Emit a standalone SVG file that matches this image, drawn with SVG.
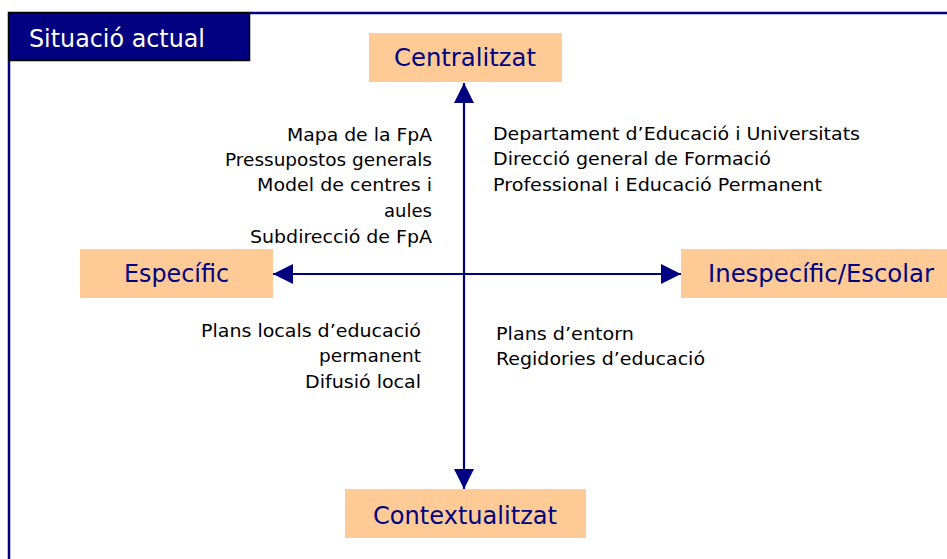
<svg xmlns="http://www.w3.org/2000/svg" width="947" height="559" viewBox="0 0 947 559">
<style>
.frame{stroke:#000080;stroke-width:2.5;fill:none}
.box{fill:#FECB97}
.hd{font-family:"DejaVu Sans",Tahoma,sans-serif;font-size:24px;fill:#000080}
.tx{font-family:"DejaVu Sans",Tahoma,sans-serif;font-size:18px;fill:#000000}
.l{text-anchor:end}
.ax{stroke:#000080;stroke-width:2.2;fill:none}
</style>
<defs>
<marker id="ah" viewBox="0 0 20 20" refX="20" refY="10" markerWidth="20" markerHeight="20" markerUnits="userSpaceOnUse" orient="auto">
<path d="M0,0 L20,10 L0,20 Z" fill="#000080"/>
</marker>
</defs>
<rect width="947" height="559" fill="#ffffff"/>
<g id="frame">
<path class="frame" d="M250,13 H947"/>
<path class="frame" d="M9,61 V559"/>
</g>
<g id="title">
<rect x="8.5" y="12.5" width="241" height="48" fill="#000080" stroke="#000000" stroke-width="1.5"/>
<text x="29" y="47" font-family="'DejaVu Sans',Tahoma,sans-serif" font-size="24" fill="#ffffff" textLength="176" lengthAdjust="spacingAndGlyphs">Situació actual</text>
</g>
<g id="connectors">
<line class="ax" x1="464" y1="274" x2="464" y2="83" marker-end="url(#ah)"/>
<line class="ax" x1="464" y1="274" x2="464" y2="489" marker-end="url(#ah)"/>
<line class="ax" x1="464" y1="274" x2="273" y2="274" marker-end="url(#ah)"/>
<line class="ax" x1="464" y1="274" x2="681" y2="274" marker-end="url(#ah)"/>
</g>
<g id="centralitzat">
<rect class="box" x="369" y="33" width="193" height="49"/>
<text class="hd" x="394" y="66" textLength="142" lengthAdjust="spacingAndGlyphs">Centralitzat</text>
</g>
<g id="especific">
<rect class="box" x="80" y="249" width="193" height="49"/>
<text class="hd" x="124" y="282" textLength="105" lengthAdjust="spacingAndGlyphs">Específic</text>
</g>
<g id="inespecific">
<rect class="box" x="681" y="249" width="266" height="49"/>
<text class="hd" x="708" y="282" textLength="226" lengthAdjust="spacingAndGlyphs">Inespecífic/Escolar</text>
</g>
<g id="contextualitzat">
<rect class="box" x="345" y="489" width="241" height="49"/>
<text class="hd" x="373" y="524" textLength="184" lengthAdjust="spacingAndGlyphs">Contextualitzat</text>
</g>
<g id="top-left-text">
<text class="tx l" x="432" y="141" textLength="145" lengthAdjust="spacingAndGlyphs">Mapa de la FpA</text>
<text class="tx l" x="432" y="166" textLength="207" lengthAdjust="spacingAndGlyphs">Pressupostos generals</text>
<text class="tx l" x="432" y="191" textLength="175" lengthAdjust="spacingAndGlyphs">Model de centres i</text>
<text class="tx l" x="432" y="217" textLength="48" lengthAdjust="spacingAndGlyphs">aules</text>
<text class="tx l" x="432" y="243" textLength="182" lengthAdjust="spacingAndGlyphs">Subdirecció de FpA</text>
</g>
<g id="top-right-text">
<text class="tx" x="493" y="140" textLength="367" lengthAdjust="spacingAndGlyphs">Departament d’Educació i Universitats</text>
<text class="tx" x="493" y="165" textLength="278" lengthAdjust="spacingAndGlyphs">Direcció general de Formació</text>
<text class="tx" x="493" y="191" textLength="329" lengthAdjust="spacingAndGlyphs">Professional i Educació Permanent</text>
</g>
<g id="bottom-left-text">
<text class="tx l" x="421" y="337" textLength="220" lengthAdjust="spacingAndGlyphs">Plans locals d’educació</text>
<text class="tx l" x="421" y="362" textLength="102" lengthAdjust="spacingAndGlyphs">permanent</text>
<text class="tx l" x="421" y="388" textLength="116" lengthAdjust="spacingAndGlyphs">Difusió local</text>
</g>
<g id="bottom-right-text">
<text class="tx" x="496" y="340" textLength="138" lengthAdjust="spacingAndGlyphs">Plans d’entorn</text>
<text class="tx" x="496" y="365" textLength="209" lengthAdjust="spacingAndGlyphs">Regidories d’educació</text>
</g>
</svg>
